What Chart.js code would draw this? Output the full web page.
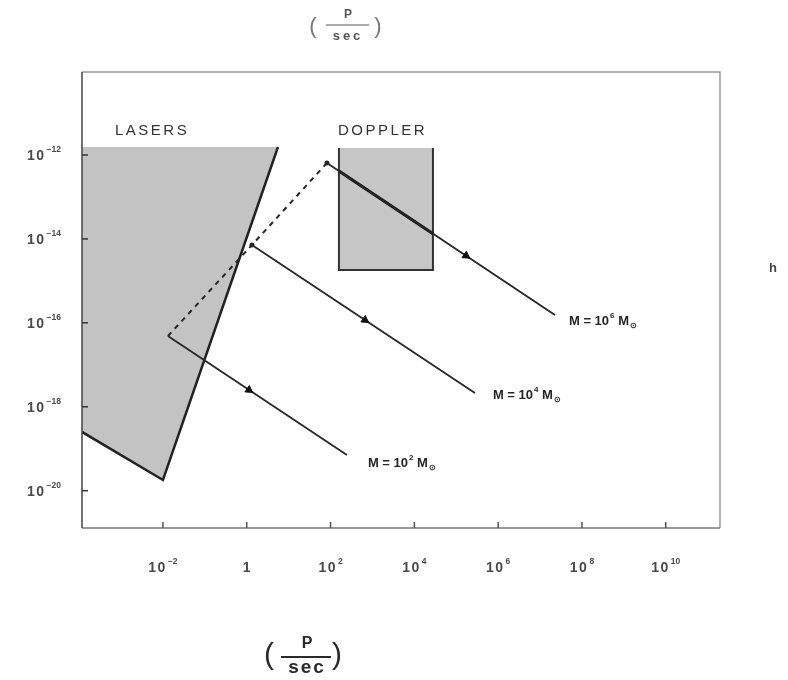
<!DOCTYPE html>
<html>
<head>
<meta charset="utf-8">
<script src="https://cdn.jsdelivr.net/npm/chart.js@4/dist/chart.umd.min.js"></script>
<style>
  html, body { margin: 0; padding: 0; background: #fff; }
  #wrap { width: 788px; height: 680px; }
</style>
</head>
<body>
<div id="wrap"><canvas id="c" width="788" height="680"></canvas></div>
<script>
// Tick positions (powers of ten) shown on each axis
const xTickExponents = [-2, 0, 2, 4, 6, 8, 10];
const yTickExponents = [-12, -14, -16, -18, -20];

// Axis extents
const xRange = [1.17e-4, 1.97e11];
const yRange = [1.29e-21, 9.5e-11];

// Shaded sensitivity regions
const laserRegion = [
  { x: 1.17e-4, y: 1.55e-12 }, { x: 5.56, y: 1.55e-12 },
  { x: 0.01, y: 1.80e-20 }, { x: 1.17e-4, y: 2.51e-19 }, { x: 1.17e-4, y: 1.55e-12 }
];
const laserEdge = [
  { x: 5.56, y: 1.55e-12 }, { x: 0.01, y: 1.80e-20 }, { x: 1.17e-4, y: 2.51e-19 }
];
const dopplerRegion = [
  { x: 158.5, y: 1.47e-12 }, { x: 2.78e4, y: 1.47e-12 },
  { x: 2.78e4, y: 1.82e-15 }, { x: 158.5, y: 1.82e-15 }, { x: 158.5, y: 1.47e-12 }
];
const dopplerEdge = [
  { x: 158.5, y: 1.47e-12 }, { x: 158.5, y: 1.82e-15 },
  { x: 2.78e4, y: 1.82e-15 }, { x: 2.78e4, y: 1.47e-12 }
];

// Signal tracks for three black-hole masses
const massExponents = ['2', '4', '6'];
const track2 = [{ x: 0.01315, y: 4.85e-17 }, { x: 246, y: 7.08e-20 }];
const track4 = [{ x: 1.33, y: 7.16e-15 }, { x: 2.79e5, y: 2.13e-18 }];
const track6 = [{ x: 82.0, y: 6.44e-13 }, { x: 2.27e7, y: 1.54e-16 }];
const track6Doppler = [{ x: 158.5, y: 4.16e-13 }, { x: 2.78e4, y: 1.33e-14 }];
const onsetLocus = [{ x: 0.01315, y: 4.85e-17 }, { x: 1.33, y: 7.16e-15 }, { x: 82.0, y: 6.44e-13 }];
const arrowMarks = [{ x: 1.13, y: 2.52e-18 }, { x: 662, y: 1.17e-16 }, { x: 1.71e5, y: 3.99e-15 }];

const FONT = '"Liberation Sans", Arial, sans-serif';
const INK = '#262626';

function drawPower(ctx, base, exp, x, y, align, baseSize, expSize, weight, color, spacing) {
  ctx.fillStyle = color;
  ctx.textBaseline = 'middle';
  ctx.textAlign = 'left';
  ctx.letterSpacing = (spacing || 0) + 'px';
  ctx.font = `${weight} ${baseSize}px ${FONT}`;
  const bw = ctx.measureText(base).width;
  ctx.letterSpacing = '0px';
  ctx.font = `${weight} ${expSize}px ${FONT}`;
  const ew = exp ? ctx.measureText(exp).width : 0;
  const total = bw + (exp ? 1 + ew : 0);
  const left = align === 'right' ? x - total : align === 'center' ? x - total / 2 : x;
  ctx.letterSpacing = (spacing || 0) + 'px';
  ctx.font = `${weight} ${baseSize}px ${FONT}`;
  ctx.fillText(base, left, y);
  ctx.letterSpacing = '0px';
  if (exp) {
    ctx.font = `${weight} ${expSize}px ${FONT}`;
    ctx.fillText(exp, left + bw + 1, y - baseSize * 0.42);
  }
  return left + total;
}

const decorations = {
  id: 'decorations',
  afterDraw(chart) {
    const { ctx, chartArea: a, scales } = chart;
    const xs = scales.x, ys = scales.y;
    ctx.save();

    // plot frame
    ctx.lineWidth = 1.5;
    ctx.strokeStyle = '#9a9a9a';
    ctx.beginPath(); ctx.moveTo(a.left, a.top); ctx.lineTo(a.right, a.top); ctx.lineTo(a.right, a.bottom); ctx.stroke();
    ctx.strokeStyle = '#777';
    ctx.beginPath(); ctx.moveTo(a.left, a.bottom); ctx.lineTo(a.right, a.bottom); ctx.stroke();
    ctx.strokeStyle = '#444';
    ctx.beginPath(); ctx.moveTo(a.left, a.top); ctx.lineTo(a.left, a.bottom); ctx.stroke();

    // inward tick marks and labels
    ctx.strokeStyle = '#333';
    ctx.lineWidth = 1.5;
    yTickExponents.forEach(e => {
      const py = ys.getPixelForValue(Math.pow(10, e));
      ctx.beginPath(); ctx.moveTo(a.left, py); ctx.lineTo(a.left + 6, py); ctx.stroke();
      drawPower(ctx, '10', '\u2212' + Math.abs(e), 61, py + 1, 'right', 14, 8.5, 'bold', '#4a4a4a', 1.5);
    });
    xTickExponents.forEach(e => {
      const px = xs.getPixelForValue(Math.pow(10, e));
      ctx.strokeStyle = '#555';
      ctx.beginPath(); ctx.moveTo(px, a.bottom); ctx.lineTo(px, a.bottom - 6); ctx.stroke();
      if (e === 0) drawPower(ctx, '1', '', px, 568, 'center', 14, 8.5, 'bold', '#4a4a4a', 0);
      else drawPower(ctx, '10', (e < 0 ? '\u2212' : '') + Math.abs(e), px, 568, 'center', 14, 8.5, 'bold', '#4a4a4a', 1.5);
    });

    // region names
    ctx.fillStyle = '#333';
    ctx.textBaseline = 'middle';
    ctx.textAlign = 'left';
    ctx.font = `15px ${FONT}`;
    ctx.letterSpacing = '2.5px';
    ctx.fillText('LASERS', 115, 131);
    ctx.fillText('DOPPLER', 338, 131);
    ctx.letterSpacing = '0px';

    // mass labels next to each track end
    const ends = [track2[1], track4[1], track6[1]];
    const offs = [[21, 8], [18, 2], [14, 6]];
    ends.forEach((pt, i) => {
      const px = xs.getPixelForValue(pt.x) + offs[i][0];
      const py = ys.getPixelForValue(pt.y) + offs[i][1];
      let xe = drawPower(ctx, 'M = 10', massExponents[i], px, py, 'left', 13, 8, 'bold', INK, 0);
      ctx.font = `bold 13px ${FONT}`;
      ctx.fillText(' M', xe, py);
      xe += ctx.measureText(' M').width;
      ctx.font = `bold 8px ${FONT}`;
      ctx.fillText('\u2299', xe + 1, py + 5);
    });

    // axis quantity labels
    ctx.fillStyle = '#555';
    ctx.strokeStyle = '#555';
    ctx.textAlign = 'center';
    ctx.font = `bold 12px ${FONT}`;
    ctx.fillText('P', 348, 15);
    ctx.lineWidth = 1.2;
    ctx.beginPath(); ctx.moveTo(326, 25); ctx.lineTo(369, 25); ctx.stroke();
    ctx.font = `bold 13px ${FONT}`;
    ctx.letterSpacing = '3px';
    ctx.fillText('sec', 348, 36);
    ctx.letterSpacing = '0px';
    ctx.font = `22px ${FONT}`;
    ctx.fillStyle = '#777';
    ctx.fillText('(', 313, 27);
    ctx.fillText(')', 378, 27);

    ctx.fillStyle = '#2a2a2a';
    ctx.strokeStyle = '#2a2a2a';
    ctx.font = `bold 16px ${FONT}`;
    ctx.fillText('P', 307, 644);
    ctx.lineWidth = 2;
    ctx.beginPath(); ctx.moveTo(281, 657); ctx.lineTo(331, 657); ctx.stroke();
    ctx.font = `bold 19px ${FONT}`;
    ctx.letterSpacing = '2px';
    ctx.fillText('sec', 307, 668);
    ctx.letterSpacing = '0px';
    ctx.font = `30px ${FONT}`;
    ctx.fillText('(', 269, 656);
    ctx.fillText(')', 337, 656);

    ctx.fillStyle = '#444';
    ctx.font = `bold 13px ${FONT}`;
    ctx.fillText('h', 773, 268);
    ctx.restore();
  }
};

const lineBase = { showLine: true, pointRadius: 0, fill: false, borderColor: INK, order: 1 };

new Chart(document.getElementById('c'), {
  type: 'scatter',
  data: {
    datasets: [
      { data: laserRegion, showLine: true, pointRadius: 0, borderWidth: 0, borderColor: 'rgba(0,0,0,0)',
        fill: 'shape', backgroundColor: '#c3c3c3', order: 10 },
      { data: dopplerRegion, showLine: true, pointRadius: 0, borderWidth: 0, borderColor: 'rgba(0,0,0,0)',
        fill: 'shape', backgroundColor: '#c6c6c6', order: 10 },
      { ...lineBase, data: laserEdge, borderWidth: 2.5, borderColor: '#222', order: 5 },
      { ...lineBase, data: dopplerEdge, borderWidth: 2, borderColor: '#333', order: 5 },
      { ...lineBase, data: onsetLocus, borderWidth: 2, borderDash: [5, 5],
        pointRadius: [0, 2.5, 2.5], pointBackgroundColor: INK, pointBorderWidth: 0 },
      { ...lineBase, data: track2, borderWidth: 1.8 },
      { ...lineBase, data: track4, borderWidth: 1.8 },
      { ...lineBase, data: track6, borderWidth: 1.8 },
      { ...lineBase, data: track6Doppler, borderWidth: 3.2, borderColor: '#111' },
      { data: arrowMarks, showLine: false, pointStyle: 'triangle', pointRadius: 4.5,
        pointRotation: 124, pointBackgroundColor: '#111', pointBorderColor: '#111', pointBorderWidth: 1, order: 0 }
    ]
  },
  options: {
    responsive: false,
    animation: false,
    devicePixelRatio: 1,
    layout: { padding: { top: 72, right: 68, left: 0, bottom: 0 } },
    plugins: { legend: { display: false }, tooltip: { enabled: false } },
    scales: {
      x: {
        type: 'logarithmic', min: xRange[0], max: xRange[1],
        grid: { display: false }, border: { display: false }, ticks: { display: false },
        afterFit: s => { s.height = 152; }
      },
      y: {
        type: 'logarithmic', min: yRange[0], max: yRange[1],
        grid: { display: false }, border: { display: false }, ticks: { display: false },
        afterFit: s => { s.width = 82; }
      }
    }
  },
  plugins: [decorations]
});
</script>
</body>
</html>
